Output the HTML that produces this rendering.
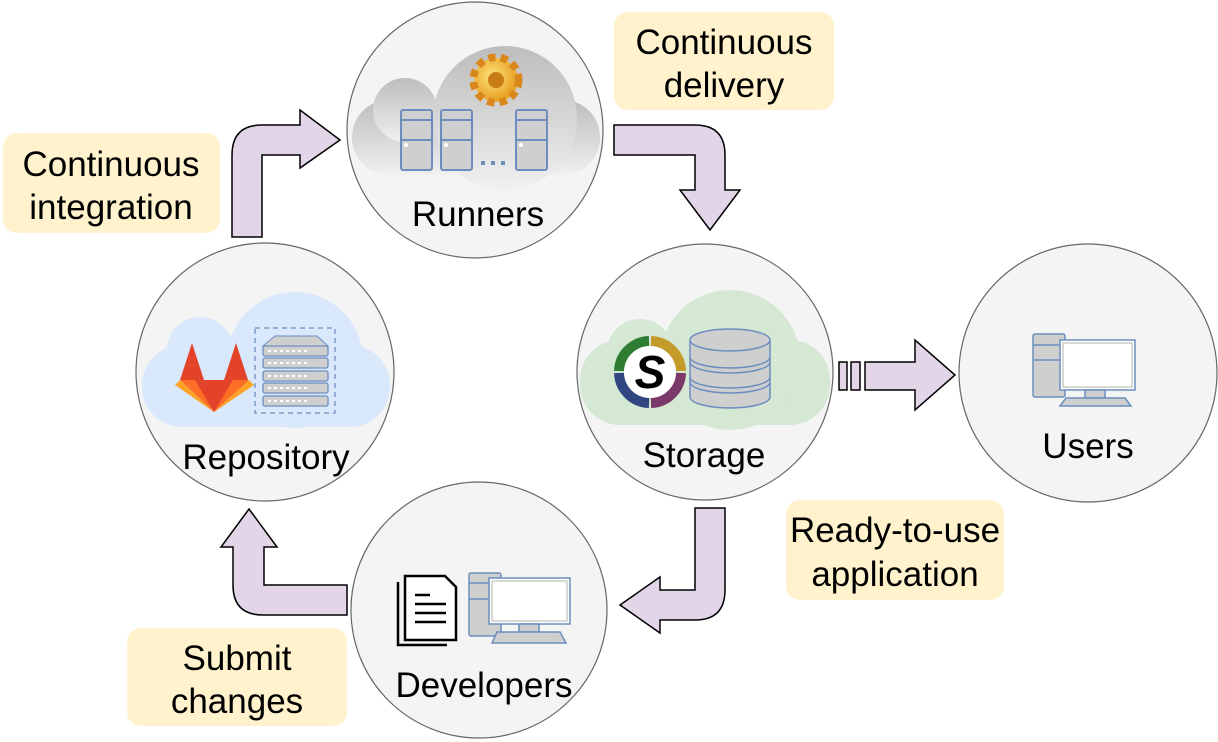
<!DOCTYPE html>
<html><head><meta charset="utf-8"><style>
html,body{margin:0;padding:0;background:#fff;width:1218px;height:742px;overflow:hidden}
text{font-family:"Liberation Sans",Arial,sans-serif}
</style></head><body>
<svg width="1218" height="742" viewBox="0 0 1218 742" xmlns="http://www.w3.org/2000/svg">
<defs>
<linearGradient id="gc" x1="0" y1="0" x2="0" y2="1"><stop offset="0" stop-color="#bdbdbd"/><stop offset="1" stop-color="#f0f0f0"/></linearGradient>
<radialGradient id="gear" cx="0.4" cy="0.4" r="0.7"><stop offset="0" stop-color="#ffe27a"/><stop offset="1" stop-color="#e49a1c"/></radialGradient>
</defs>

<!-- label boxes -->
<rect x="3" y="133" width="217" height="100" rx="14" fill="#fff2cc"/>
<text x="111" y="176" font-size="35" text-anchor="middle">Continuous</text>
<text x="111" y="219" font-size="35" text-anchor="middle">integration</text>
<rect x="614" y="12" width="220" height="98" rx="14" fill="#fff2cc"/>
<text x="724" y="54" font-size="35" text-anchor="middle">Continuous</text>
<text x="724" y="97" font-size="35" text-anchor="middle">delivery</text>
<rect x="786" y="500" width="218" height="100" rx="14" fill="#fff2cc"/>
<text x="895" y="542" font-size="35" text-anchor="middle">Ready-to-use</text>
<text x="895" y="586" font-size="35" text-anchor="middle">application</text>
<rect x="127" y="628" width="220" height="98" rx="14" fill="#fff2cc"/>
<text x="237" y="670" font-size="35" text-anchor="middle">Submit</text>
<text x="237" y="713" font-size="35" text-anchor="middle">changes</text>

<!-- arrows -->
<g fill="#e1d5e7" stroke="#000" stroke-width="1.5">
<path d="M232,237 L232,155 Q232,125 262,125 L300,125 L300,110 L340,140 L300,168 L300,155 L262,155 L262,237 Z"/>
<path d="M614,125 L695,125 Q725,125 725,155 L725,190 L740,190 L710,230 L680,190 L695,190 L695,155 L614,155 Z"/>
<path d="M695,508 L725,508 L725,590 Q725,620 695,620 L660,620 L660,633 L620,605 L660,577 L660,590 L695,590 Z"/>
<path d="M347,585 L347,615 L263,615 Q233,615 233,585 L233,547 L221,547 L249,509 L277,547 L264,547 L264,585 Z"/>
<rect x="839" y="362" width="8" height="28"/>
<rect x="851" y="362" width="9" height="28"/>
<path d="M865,362 L915,362 L915,340 L955,375 L915,410 L915,390 L865,390 Z"/>
</g>

<!-- circles -->
<g fill="#f4f4f4" stroke="#666" stroke-width="1.2">
<circle cx="475" cy="130" r="128"/>
<circle cx="705" cy="372" r="128"/>
<circle cx="1088" cy="373" r="129"/>
<circle cx="265" cy="372" r="129"/>
<circle cx="479" cy="610" r="128"/>
</g>

<!-- Runners -->
<g fill="url(#gc)">
<rect x="352" y="100" width="248" height="75" rx="37"/>
<circle cx="405" cy="110" r="32"/>
<circle cx="505" cy="118" r="72"/>
</g>
<g fill="#cfcfcf" stroke="#6c8ebf" stroke-width="2">
<rect x="401" y="110" width="31" height="60" rx="2"/><line x1="401" y1="120" x2="432" y2="120"/><line x1="401" y1="140" x2="432" y2="140"/>
<rect x="441" y="110" width="31" height="60" rx="2"/><line x1="441" y1="120" x2="472" y2="120"/><line x1="441" y1="140" x2="472" y2="140"/>
<rect x="516" y="110" width="31" height="60" rx="2"/><line x1="516" y1="120" x2="547" y2="120"/><line x1="516" y1="140" x2="547" y2="140"/>
</g>
<g fill="#fff"><circle cx="406" cy="145" r="2"/><circle cx="446" cy="145" r="2"/><circle cx="521" cy="145" r="2"/></g>
<g fill="#6c8ebf"><rect x="481" y="161" width="4" height="4"/><rect x="491" y="161" width="4" height="4"/><rect x="501" y="161" width="4" height="4"/></g>
<g transform="translate(496,80)">
<circle r="22" fill="url(#gear)" stroke="#d9861a" stroke-width="9" stroke-dasharray="7 5"/>
<circle r="19" fill="url(#gear)"/>
<circle r="8" fill="#c77c15"/>
</g>
<text x="478" y="226" font-size="35" text-anchor="middle">Runners</text>

<!-- Repository -->
<g fill="#dae8fc">
<rect x="142" y="345" width="248" height="82" rx="40"/>
<circle cx="200" cy="350" r="33"/>
<circle cx="295" cy="360" r="68"/>
</g>
<g>
<polygon points="192,343 180,380 204,380" fill="#e24329"/>
<polygon points="236,343 224,380 248,380" fill="#e24329"/>
<polygon points="180,380 214,412 249,380" fill="#fc6d26"/>
<polygon points="180,380 175,385 214,412" fill="#fca326"/>
<polygon points="249,380 254,385 214,412" fill="#fca326"/>
<polygon points="195,380 214,412 233,380" fill="#e24329"/>
</g>
<rect x="255" y="328" width="80" height="85" fill="none" stroke="#6c8ebf" stroke-dasharray="5 4" stroke-width="1.3"/>
<polygon points="263,346 275,336 317,336 328,346" fill="#cfcfcf" stroke="#6c8ebf"/>
<g fill="#cfcfcf" stroke="#6c8ebf" stroke-width="1.3">
<rect x="263" y="346" width="65" height="10" rx="2"/><rect x="263" y="358" width="65" height="10" rx="2"/><rect x="263" y="371" width="65" height="10" rx="2"/><rect x="263" y="383" width="65" height="10" rx="2"/><rect x="263" y="396" width="65" height="10" rx="2"/>
</g>
<g stroke="#fff" stroke-width="2" stroke-dasharray="3 3"><line x1="268" y1="351" x2="308" y2="351"/><line x1="268" y1="363" x2="308" y2="363"/><line x1="268" y1="376" x2="308" y2="376"/><line x1="268" y1="388" x2="308" y2="388"/><line x1="268" y1="401" x2="308" y2="401"/></g>
<text x="266" y="469" font-size="35" text-anchor="middle">Repository</text>

<!-- Storage -->
<g fill="#d5e8d4">
<rect x="580" y="340" width="250" height="85" rx="40"/>
<circle cx="640" cy="352" r="33"/>
<circle cx="730" cy="360" r="70"/>
</g>
<g transform="translate(650,372)" stroke-width="10" fill="none">
<path d="M-1,-31 A31,31 0 0 0 -31,-1" stroke="#2e7d32"/>
<path d="M1,-31 A31,31 0 0 1 31,-1" stroke="#c49b2a"/>
<path d="M31,1 A31,31 0 0 1 1,31" stroke="#7b3a6a"/>
<path d="M-1,31 A31,31 0 0 1 -31,1" stroke="#2f4680"/>
<circle r="26" fill="#fff" stroke="none"/>
<text x="0" y="16" font-size="46" font-weight="bold" font-style="italic" text-anchor="middle" fill="#000" stroke="none">S</text>
</g>
<g fill="#cfcfcf" stroke="#6c8ebf" stroke-width="1.5">
<path d="M690,340 L690,397 A40,11 0 0 0 770,397 L770,340"/>
<ellipse cx="730" cy="340" rx="40" ry="11"/>
<path d="M690,357 A40,11 0 0 0 770,357" fill="none"/><path d="M690,362 A40,11 0 0 0 770,362" fill="none"/>
<path d="M690,377 A40,11 0 0 0 770,377" fill="none"/><path d="M690,382 A40,11 0 0 0 770,382" fill="none"/>
</g>
<text x="704" y="467" font-size="35" text-anchor="middle">Storage</text>

<!-- Users -->
<g stroke="#6c8ebf" stroke-width="1.5">
<rect x="1033" y="334" width="32" height="63" rx="2" fill="#cfcfcf"/>
<line x1="1033" y1="345" x2="1065" y2="345"/><line x1="1033" y1="360" x2="1065" y2="360"/>
<rect x="1060" y="340" width="75" height="50" fill="#fff"/>
<rect x="1063" y="343" width="69" height="44" fill="none" stroke="#ccc"/>
<rect x="1085" y="390" width="20" height="8" fill="#cfcfcf"/>
<polygon points="1066,398 1125,398 1131,406 1060,406" fill="#cfcfcf"/>
</g>
<text x="1088" y="458" font-size="35" text-anchor="middle">Users</text>

<!-- Developers -->
<g fill="#fff" stroke="#000" stroke-width="2.5">
<path d="M398,582 L398,645 L447,645" fill="none"/>
<path d="M405,576 L445,576 L456,587 L456,640 L405,640 Z"/>
</g>
<g stroke="#000" stroke-width="2.5"><line x1="415" y1="595" x2="430" y2="595"/><line x1="415" y1="604" x2="446" y2="604"/><line x1="415" y1="613" x2="446" y2="613"/><line x1="415" y1="622" x2="446" y2="622"/></g>
<g stroke="#6c8ebf" stroke-width="1.5">
<rect x="469" y="573" width="32" height="63" rx="2" fill="#cfcfcf"/>
<line x1="469" y1="583" x2="501" y2="583"/><line x1="469" y1="599" x2="501" y2="599"/>
<rect x="489" y="578" width="81" height="46" fill="#fff"/>
<rect x="492" y="581" width="75" height="40" fill="none" stroke="#ccc"/>
<rect x="519" y="624" width="20" height="8" fill="#cfcfcf"/>
<polygon points="497,632 560,632 566,643 492,643" fill="#cfcfcf"/>
</g>
<text x="484" y="697" font-size="35" text-anchor="middle">Developers</text>
</svg>
</body></html>
